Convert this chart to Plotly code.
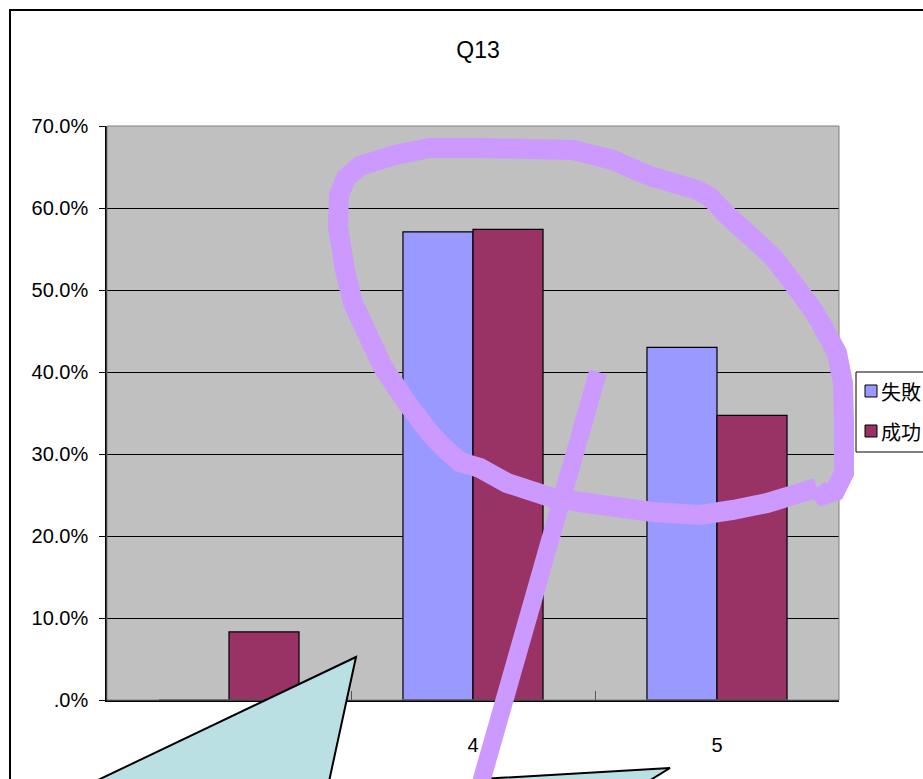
import plotly.graph_objects as go

# ---------------- data ----------------
categories = ["3", "4", "5"]
series_names = ["失敗", "成功"]
fail_values = [0.0, 0.571, 0.430]
success_values = [0.083, 0.574, 0.347]
series_colors = ["#9999FF", "#993366"]
y_tick_values = [0.0, 0.1, 0.2, 0.3, 0.4, 0.5, 0.6, 0.7]
y_tick_labels = [".0%", "10.0%", "20.0%", "30.0%", "40.0%", "50.0%", "60.0%", "70.0%"]
chart_title = "Q13"

# ---------------- geometry helpers (figure pixels -> paper) ----------------
W, H = 923, 779
L, R, T, B = 107, 839, 126, 700


def P(x, y):
    return ((x - L) / (R - L), (B - y) / (B - T))


def path_from(points, close=False):
    parts = []
    for i, (x, y) in enumerate(points):
        px, py = P(x, y)
        parts.append(("M" if i == 0 else "L") + f"{px:.5f},{py:.5f}")
    s = " ".join(parts)
    if close:
        s += " Z"
    return s


# hand-drawn highlight (purple loop) in pixel space
loop_pts = [
    (817, 488), (800, 493), (767, 503), (733, 510), (700, 515), (653, 512),
    (587, 503), (553, 498), (507, 483), (480, 468), (460, 462), (443, 447),
    (430, 433), (407, 403), (383, 367), (367, 333), (353, 303), (345, 270),
    (338, 227), (339, 195), (346, 178), (360, 166), (395, 155), (430, 148),
    (480, 148), (573, 150), (613, 160), (640, 172), (653, 177), (680, 185),
    (697, 190), (710, 197), (727, 215), (747, 233), (760, 245), (773, 257),
    (793, 283), (813, 310), (823, 327), (837, 353), (843, 383), (844, 423),
    (844, 473), (835, 491), (823, 495), (817, 488),
]
stroke_pts = [(598, 372), (476, 800)]
callout1_pts = [(356, 657), (56, 800), (325, 800)]
callout2_pts = [(480, 779), (670, 768), (618, 800), (470, 800)]

fig = go.Figure()
for name, vals, col in zip(series_names, [fail_values, success_values], series_colors):
    fig.add_trace(go.Bar(
        x=categories, y=vals, name=name,
        marker=dict(color=col, line=dict(color="black", width=1.2)),
        showlegend=False,
    ))

tick_font = dict(family="Liberation Sans, Arial", size=20, color="black")

shapes = []
# outer chart border
x0, y0 = P(10, 10)
x1, y1 = P(1000, 1000)
shapes.append(dict(type="rect", xref="paper", yref="paper", x0=x0, y0=y1, x1=x1, y1=y0,
                   line=dict(color="black", width=2), fillcolor="rgba(0,0,0,0)", layer="below"))
# plot-area gray frame
shapes.append(dict(type="rect", xref="paper", yref="paper", x0=0, y0=0, x1=1, y1=1,
                   line=dict(color="#808080", width=1), fillcolor="rgba(0,0,0,0)", layer="above"))

# custom legend (box runs off the right edge as in reference)
lx0, ly0 = P(856, 372)
lx1, ly1 = P(960, 452)
shapes.append(dict(type="rect", xref="paper", yref="paper", x0=lx0, y0=ly1, x1=lx1, y1=ly0,
                   line=dict(color="black", width=1), fillcolor="white", layer="above"))
annotations = []
for i, (name, col) in enumerate(zip(series_names, series_colors)):
    cy = 391 + 40 * i
    sx0, sy0 = P(865, cy - 6)
    sx1, sy1 = P(877, cy + 6)
    shapes.append(dict(type="rect", xref="paper", yref="paper", x0=sx0, y0=sy1, x1=sx1, y1=sy0,
                       line=dict(color="black", width=1), fillcolor=col, layer="above"))
    tx, ty = P(879, cy)
    annotations.append(dict(text=name, xref="paper", yref="paper", x=tx, y=ty,
                            xanchor="left", yanchor="middle", showarrow=False,
                            font=dict(family="Noto Sans CJK JP", size=20, color="black")))

# callouts (cyan) and purple marks
shapes.append(dict(type="path", xref="paper", yref="paper", path=path_from(callout1_pts, True),
                   fillcolor="#BBE0E3", line=dict(color="black", width=2), layer="above"))
shapes.append(dict(type="path", xref="paper", yref="paper", path=path_from(callout2_pts, True),
                   fillcolor="#BBE0E3", line=dict(color="black", width=2), layer="above"))
shapes.append(dict(type="path", xref="paper", yref="paper", path=path_from(loop_pts),
                   line=dict(color="#CC99FF", width=20), layer="above"))
shapes.append(dict(type="path", xref="paper", yref="paper", path=path_from(stroke_pts),
                   line=dict(color="#CC99FF", width=18), layer="above"))

tx, ty = P(478, 50)
fig.update_layout(
    width=W, height=H,
    margin=dict(l=L, r=W - R, t=T, b=H - B, pad=0, autoexpand=False),
    paper_bgcolor="white",
    plot_bgcolor="#C0C0C0",
    barmode="group",
    bargap=0.426,
    bargroupgap=0,
    title=dict(text=chart_title, x=tx, xref="paper", xanchor="center",
               y=1 - 50 / H, yref="container", yanchor="middle",
               font=dict(family="Liberation Sans, Arial", size=23, color="black")),
    xaxis=dict(
        type="category", showgrid=False, showline=True, linecolor="black", linewidth=1.5,
        ticks="inside", tickson="boundaries", ticklen=9, tickcolor="#555555", tickwidth=1,
        tickfont=tick_font, ticklabelstandoff=26, zeroline=False,
    ),
    yaxis=dict(
        range=[0, 0.7], tickvals=y_tick_values, ticktext=y_tick_labels,
        showgrid=True, gridcolor="black", gridwidth=1, zeroline=False,
        showline=True, linecolor="black", linewidth=1.5,
        ticks="outside", ticklen=6, tickcolor="black", tickfont=tick_font,
        ticklabelstandoff=7,
    ),
    shapes=shapes,
    annotations=annotations,
    showlegend=False,
)

fig.write_html("out.html")
